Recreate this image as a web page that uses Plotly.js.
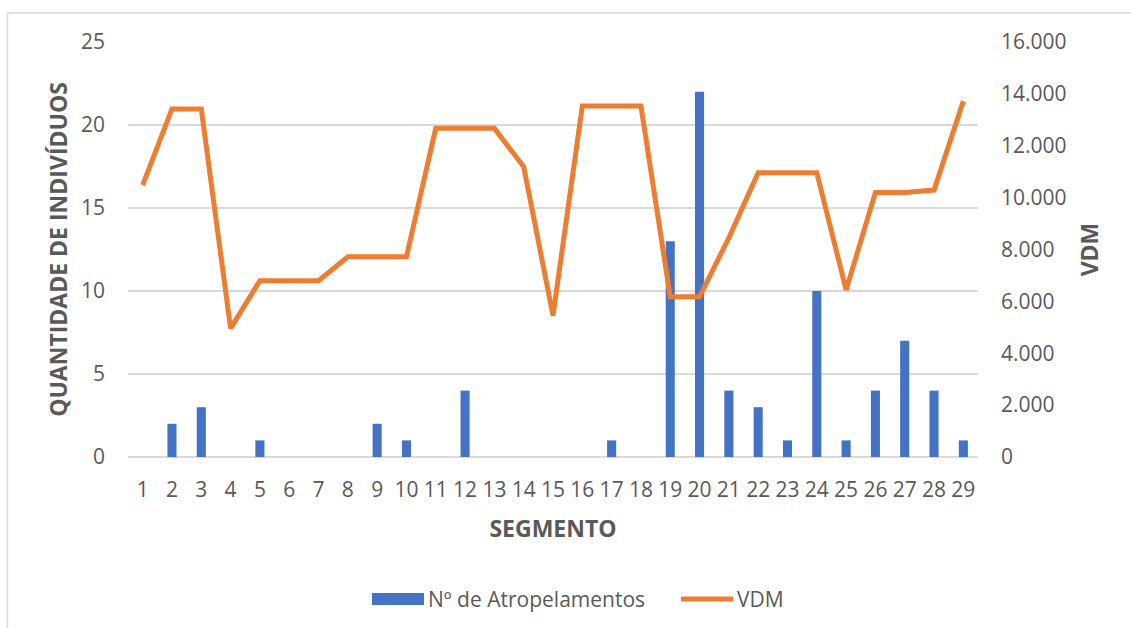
<!DOCTYPE html>
<html>
<head>
<meta charset="utf-8">
<script src="https://cdn.plot.ly/plotly-3.0.1.min.js"></script>
<style>html,body{margin:0;padding:0;background:#fff;}#chart{width:1131px;height:628px;}</style>
</head>
<body>
<div id="chart"></div>
<script>
const segmentos = ['1','2','3','4','5','6','7','8','9','10','11','12','13','14','15','16','17','18','19','20','21','22','23','24','25','26','27','28','29'];
const atropelamentos = [0,2,3,0,1,0,0,0,2,1,0,4,0,0,0,0,1,0,13,22,4,3,1,10,1,4,7,4,1];
const vdm = [10480,13420,13420,4960,6800,6800,6800,7720,7720,7720,12670,12670,12670,11190,5450,13530,13530,13530,6180,6180,8450,10960,10960,10960,6440,10200,10200,10290,13720];
const nomeBarras = 'Nº de Atropelamentos';
const nomeLinha = 'VDM';

const txt = '#595959';
const font = 'Open Sans, sans-serif';
const tickSize = 21;
const titleSize = 23;

const traces = [
  {type:'bar', x:segmentos, y:atropelamentos, name:nomeBarras, marker:{color:'#4472C4'}, yaxis:'y', showlegend:false},
  {type:'scatter', mode:'lines', x:segmentos, y:vdm, name:nomeLinha, line:{color:'#ED7D31', width:5}, yaxis:'y2', showlegend:false}
];

const L = 128, R = 978, T = 42, B = 457;
const px = v => (v - L) / (R - L);
const py = v => (B - v) / (B - T);

const layout = {
  width:1131, height:628,
  margin:{l:L, r:1131-R, t:T, b:628-B, pad:0},
  paper_bgcolor:'#fff', plot_bgcolor:'#fff',
  separators:',.',
  font:{family:font, color:txt, size:tickSize},
  bargap:0.69,
  showlegend:false,
  xaxis:{type:'category', tickfont:{size:tickSize, color:txt}, ticks:'', ticklabelstandoff:18, showgrid:false, zeroline:false, showline:false,
    title:{text:'SEGMENTO', font:{size:titleSize, color:txt, weight:'bold'}, standoff:18}},
  yaxis:{range:[0,25], dtick:5, tickfont:{size:tickSize, color:txt}, ticks:'', ticklabelstandoff:22, gridcolor:'#D9D9D9', gridwidth:1.5,
    zeroline:true, zerolinecolor:'#D9D9D9', zerolinewidth:1.5, showline:false,
    title:{text:'QUANTIDADE DE INDIVÍDUOS', font:{size:titleSize, color:txt, weight:'bold'}, standoff:6}},
  yaxis2:{overlaying:'y', side:'right', range:[0,16000], dtick:2000, tickformat:',d', tickfont:{size:tickSize, color:txt}, ticks:'', ticklabelstandoff:22,
    showgrid:false, zeroline:false, showline:false,
    title:{text:'VDM', font:{size:titleSize, color:txt, weight:'bold'}, standoff:16}},
  shapes:[
    {type:'rect', xref:'paper', yref:'paper', x0:px(7.5), x1:px(1140), y0:py(640), y1:py(13), line:{color:'#D9D9D9', width:1.5}, fillcolor:'rgba(0,0,0,0)', layer:'below'},
    {type:'rect', xref:'paper', yref:'paper', x0:px(372), x1:px(424), y0:py(605), y1:py(593), line:{width:0}, fillcolor:'#4472C4'},
    {type:'line', xref:'paper', yref:'paper', x0:px(681), x1:px(733), y0:py(599), y1:py(599), line:{color:'#ED7D31', width:5}}
  ],
  annotations:[
    {xref:'paper', yref:'paper', x:px(426), y:py(599), text:nomeBarras, showarrow:false, xanchor:'left', yanchor:'middle', font:{size:tickSize, color:txt}},
    {xref:'paper', yref:'paper', x:px(735), y:py(599), text:nomeLinha, showarrow:false, xanchor:'left', yanchor:'middle', font:{size:tickSize, color:txt}}
  ]
};

Plotly.newPlot('chart', traces, layout, {displayModeBar:false, staticPlot:true});
</script>
</body>
</html>
